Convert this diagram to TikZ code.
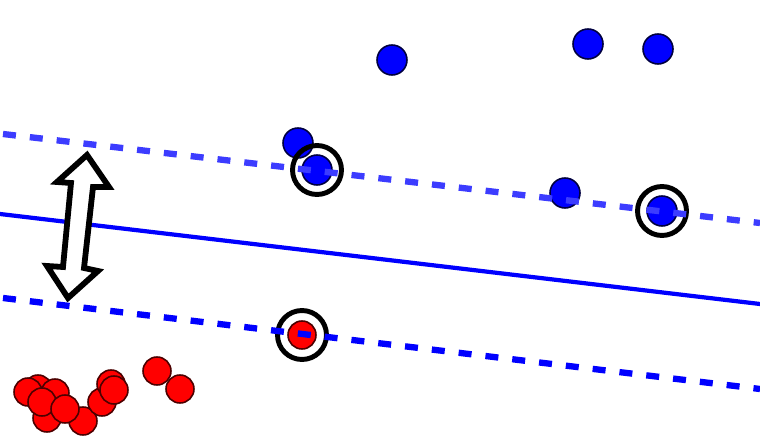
\documentclass[tikz,border=0pt]{standalone}
\definecolor{dotblue}{rgb}{0,0,1}
\definecolor{dotred}{rgb}{1,0,0}
\definecolor{blueedge}{rgb}{0,0,0.25}
\definecolor{rededge}{rgb}{0.3,0,0}
\definecolor{lightline}{RGB}{60,60,255}
\tikzset{
  bdot/.style={circle,draw=blueedge,fill=dotblue,line width=0.9pt,minimum size=0.6cm,inner sep=0pt},
  rdot/.style={circle,draw=rededge,fill=dotred,line width=0.9pt,minimum size=0.56cm,inner sep=0pt},
  ring/.style={circle,draw=black,line width=2.8pt,minimum size=0.98cm,inner sep=0pt},
  margin/.style={line width=3.6pt,dash pattern=on 0.26cm off 0.28cm},
  sep/.style={draw=dotblue,line width=2.4pt},
}
\begin{document}
\begin{tikzpicture}[x=0.02cm,y=-0.02cm]
\useasboundingbox (0,0) rectangle (760,445);
% separating line
\coordinate (s1) at (0,214);
\coordinate (s2) at (760,304);
\draw[sep] (s1) -- (s2);
% double arrow
\draw[line width=3.3pt,line join=miter,fill=white]
  (87,155) -- (109,187) -- (93,187) -- (84,268) -- (98,271) -- (68,298)
  -- (47,266) -- (63,267) -- (71,183) -- (57,182) -- cycle;
% blue dots
\node[bdot] (b1) at (392,60) {};
\node[bdot] (b2) at (588,44) {};
\node[bdot] (b3) at (658,49) {};
\node[bdot] (b4) at (298,143) {};
\node[bdot] (b6) at (565,193) {};
\node[ring] (r1) at (317,170) {};
\node[bdot] (b5) at (317,170) {};
\node[ring] (r2) at (662,211) {};
\node[bdot] (b7) at (662,211) {};
% red dots
\node[ring] (r3) at (302,335) {};
\node[rdot] (d0) at (302,335) {};
\node[rdot] (d1) at (47,418) {};
\node[rdot] (d2) at (83,421) {};
\node[rdot] (d3) at (38,389) {};
\node[rdot] (d4) at (55,393) {};
\node[rdot] (d5) at (28,392) {};
\node[rdot] (d6) at (42,402) {};
\node[rdot] (d7) at (65,409) {};
\node[rdot] (d8) at (102,402) {};
\node[rdot] (d9) at (111,384) {};
\node[rdot] (d10) at (114,390) {};
\node[rdot] (d11) at (157,371) {};
\node[rdot] (d12) at (180,389) {};
% margin lines
\coordinate (t1) at (3,134);
\coordinate (t2) at (760,223);
\coordinate (u1) at (3,298);
\coordinate (u2) at (760,389);
\draw[margin,draw=lightline] (t1) -- (t2);
\draw[margin,draw=dotblue] (u1) -- (u2);
\end{tikzpicture}
\end{document}
